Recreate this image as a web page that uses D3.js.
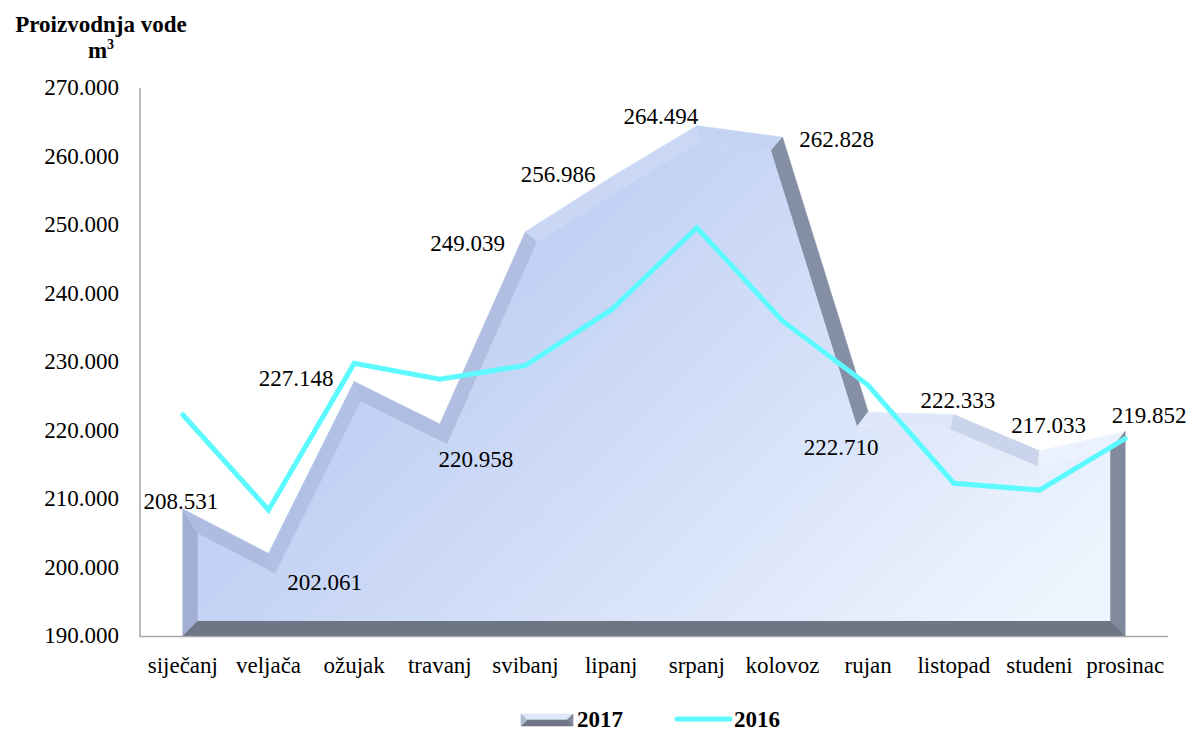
<!DOCTYPE html>
<html>
<head>
<meta charset="utf-8">
<script src="https://cdn.jsdelivr.net/npm/d3@7"></script>
<style>
  body { margin: 0; background: #fff; }
</style>
</head>
<body>
<div id="chart"></div>
<script>
// data
var months = ["siječanj", "veljača", "ožujak", "travanj", "svibanj", "lipanj",
              "srpanj", "kolovoz", "rujan", "listopad", "studeni", "prosinac"];
var values2017 = [208531, 202061, 227148, 220958, 249039, 256986,
                  264494, 262828, 222710, 222333, 217033, 219852];
var values2016 = [222300, 208400, 229800, 227500, 229500, 237600,
                  249600, 236000, 226600, 212300, 211300, 218800];
var yTicks = [190000, 200000, 210000, 220000, 230000, 240000, 250000, 260000, 270000];

// where Excel put each 2017 label, relative to its point (text centre, baseline)
var labelNudge = [[-2, 0], [56, 37], [-58, 4], [36, 43], [-58, 19], [-53, 5],
                  [-36, -2], [54, 10], [-27, 43], [4, -7], [9, -18], [24, -9]];

var width = 1194, height = 731;
var serif = "'Liberation Serif', 'Times New Roman', 'DejaVu Serif', serif";
var fmt = v => d3.format(",")(v).replace(/,/g, ".");

var svg = d3.select("#chart").append("svg")
  .attr("width", width)
  .attr("height", height)
  .attr("font-family", serif);

var x = d3.scalePoint().domain(months).range([140, 1168]).padding(0.5);
var y = d3.scaleLinear().domain([190000, 270000]).range([636, 88]);

// gradient of the front face
var g0 = [500, 120], g1 = [1000, 640];
var faceColor = d3.interpolateRgb("#b9caf2", "#eef4fe");
function gradAt(p) {
  var vx = g1[0] - g0[0], vy = g1[1] - g0[1];
  var t = ((p[0] - g0[0]) * vx + (p[1] - g0[1]) * vy) / (vx * vx + vy * vy);
  return faceColor(Math.max(0, Math.min(1, t)));
}
var defs = svg.append("defs");
var grad = defs.append("linearGradient")
  .attr("id", "face")
  .attr("gradientUnits", "userSpaceOnUse")
  .attr("x1", g0[0]).attr("y1", g0[1])
  .attr("x2", g1[0]).attr("y2", g1[1]);
grad.append("stop").attr("offset", 0).attr("stop-color", "#b9caf2");
grad.append("stop").attr("offset", 1).attr("stop-color", "#eef4fe");

// light comes from above, a bit from the left
var light = [-0.35, -0.94];
var darkAmount = d3.scaleLinear().domain([0, 0.2, 0.55, 0.95, 1.82])
  .range([0, 0.28, 0.44, 0.8, 1]).clamp(true);
function shade(base, dot) {
  if (dot >= 0.9) return d3.interpolateRgb(base, "#ffffff")((dot - 0.9) * 1.5);
  var t = darkAmount(0.9 - dot);
  var dark = d3.interpolateRgb("#7e90c0", "#6e7585")(t);
  return d3.interpolateRgb(base, dark)(t);
}

// draws a polygon with a bevelled rim of width d
function bevel(g, pts, d, fill) {
  var n = pts.length;
  var normals = pts.map((p, i) => {
    var q = pts[(i + 1) % n];
    var dx = q[0] - p[0], dy = q[1] - p[1];
    var len = Math.hypot(dx, dy);
    return [-dy / len, dx / len]; // points inward
  });
  var inner = pts.map((p, i) => {
    var a = normals[(i - 1 + n) % n], b = normals[i];
    var k = d / (1 + a[0] * b[0] + a[1] * b[1]);
    return [p[0] + (a[0] + b[0]) * k, p[1] + (a[1] + b[1]) * k];
  });
  pts.forEach((p, i) => {
    var j = (i + 1) % n;
    var quad = [p, pts[j], inner[j], inner[i]];
    var c = [d3.mean(quad, q => q[0]), d3.mean(quad, q => q[1])];
    var dot = -normals[i][0] * light[0] - normals[i][1] * light[1];
    var col = shade(gradAt(c), dot);
    g.append("path")
      .attr("d", "M" + quad.join("L") + "Z")
      .attr("fill", col)
      .attr("stroke", col)
      .attr("stroke-width", 0.6);
  });
  g.append("path")
    .attr("d", "M" + inner.join("L") + "Z")
    .attr("fill", fill);
}

// 2017 area
var base = y.domain()[0];
var outline = [[x(months[0]), y(base)]]
  .concat(months.map((m, i) => [x(m), y(values2017[i])]))
  .concat([[x(months[months.length - 1]), y(base)]]);
bevel(svg.append("g"), outline, 15, "url(#face)");

// axes
svg.append("line")
  .attr("x1", 140).attr("x2", 140)
  .attr("y1", y(270000)).attr("y2", y(190000) + 1)
  .attr("stroke", "#a6a6a6").attr("stroke-width", 1.5);
svg.append("line")
  .attr("x1", 140).attr("x2", 1168)
  .attr("y1", y(190000) + 0.5).attr("y2", y(190000) + 0.5)
  .attr("stroke", "#a6a6a6").attr("stroke-width", 1.5);

svg.append("g").selectAll("text")
  .data(yTicks)
  .enter()
  .append("text")
  .attr("x", 119)
  .attr("y", d => y(d) + 7)
  .attr("text-anchor", "end")
  .attr("font-size", 23)
  .text(d => fmt(d));

svg.append("g").selectAll("text")
  .data(months)
  .enter()
  .append("text")
  .attr("x", d => x(d))
  .attr("y", 673)
  .attr("text-anchor", "middle")
  .attr("font-size", 23)
  .text(d => d);

// 2016 line
var line = d3.line()
  .x((d, i) => x(months[i]))
  .y(d => y(d));
svg.append("path")
  .datum(values2016)
  .attr("d", line)
  .attr("fill", "none")
  .attr("stroke", "#5cfaff")
  .attr("stroke-width", 5)
  .attr("stroke-linecap", "round");

// 2017 labels
svg.append("g").selectAll("text")
  .data(values2017)
  .enter()
  .append("text")
  .attr("x", (d, i) => x(months[i]) + labelNudge[i][0])
  .attr("y", (d, i) => y(d) + labelNudge[i][1])
  .attr("text-anchor", "middle")
  .attr("font-size", 23)
  .text(d => fmt(d));

// title
var title = svg.append("text")
  .attr("x", 101)
  .attr("text-anchor", "middle")
  .attr("font-size", 23)
  .attr("font-weight", "bold");
title.append("tspan").attr("x", 101).attr("y", 32).text("Proizvodnja vode");
title.append("tspan").attr("x", 101).attr("y", 58).text("m");
title.append("tspan").attr("dy", -9).attr("font-size", 14).text("3");

// legend
var legend = svg.append("g");
bevel(legend.append("g"), [[521, 714], [573, 714], [573, 726], [521, 726]], 6, "url(#face)");
legend.append("text")
  .attr("x", 577).attr("y", 727)
  .attr("font-size", 23).attr("font-weight", "bold")
  .text("2017");
legend.append("line")
  .attr("x1", 677).attr("x2", 730)
  .attr("y1", 719).attr("y2", 719)
  .attr("stroke", "#5cfaff").attr("stroke-width", 5)
  .attr("stroke-linecap", "round");
legend.append("text")
  .attr("x", 734).attr("y", 727)
  .attr("font-size", 23).attr("font-weight", "bold")
  .text("2016");
</script>
</body>
</html>
